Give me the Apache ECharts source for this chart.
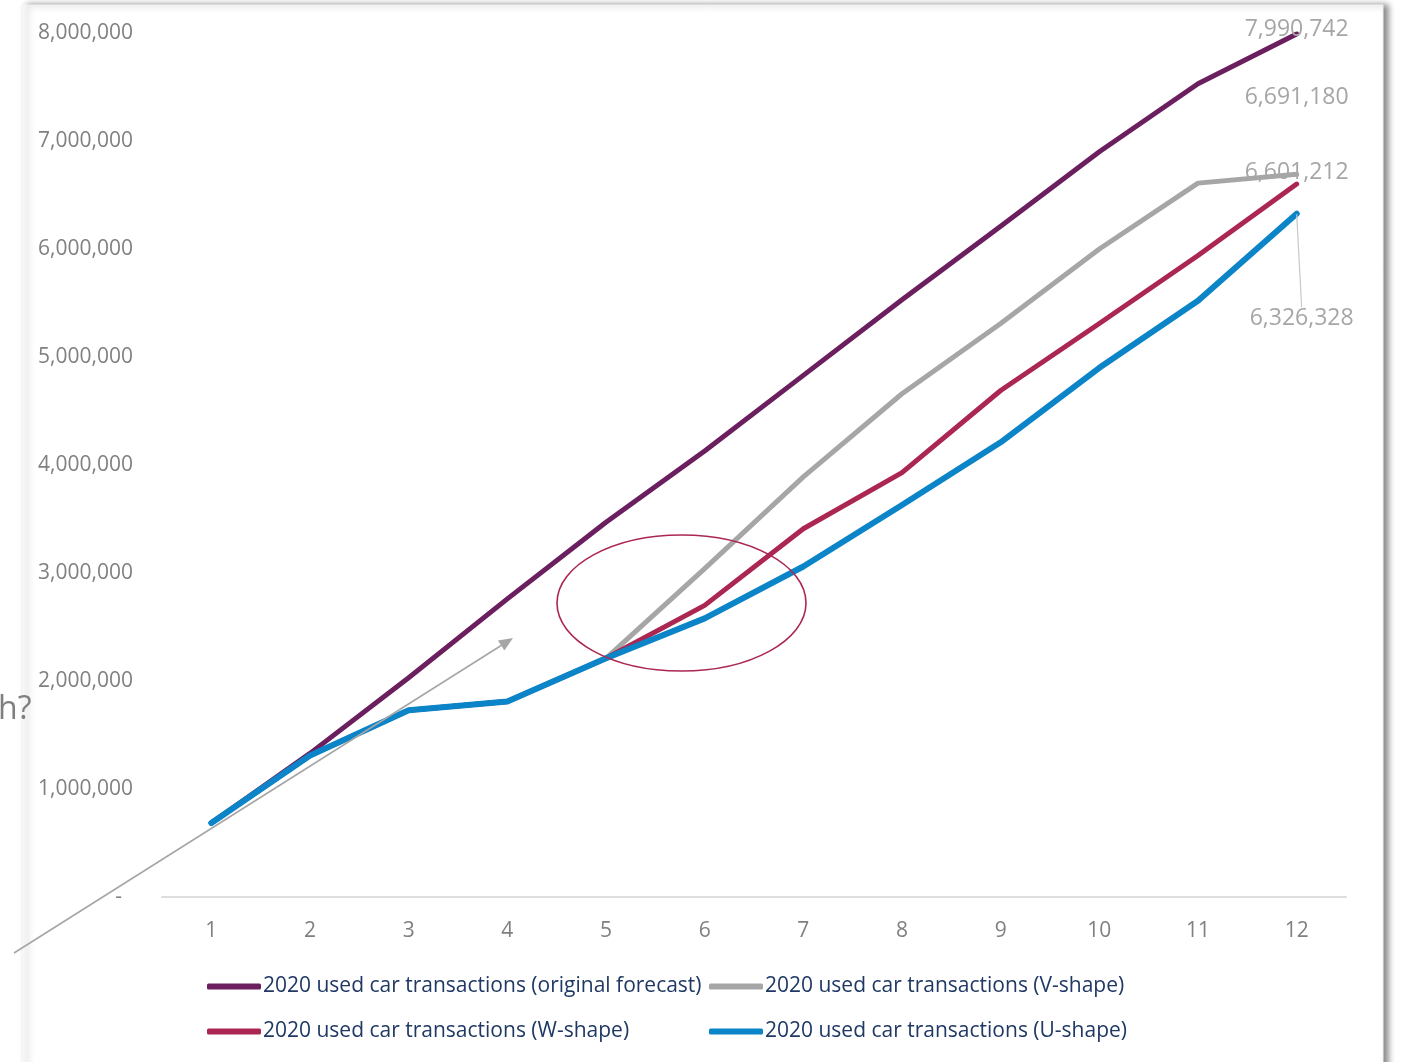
<!DOCTYPE html>
<html>
<head>
<meta charset="utf-8">
<script src="https://cdn.jsdelivr.net/npm/echarts@6/dist/echarts.min.js"></script>
<style>
  html, body { margin: 0; padding: 0; background: #ffffff; }
  #chart { width: 1401px; height: 1062px; }
</style>
</head>
<body>
<div id="chart"></div>
<script>
// Month numbers on the category axis
const months = ['1', '2', '3', '4', '5', '6', '7', '8', '9', '10', '11', '12'];

// Cumulative 2020 used car transactions per scenario
const originalForecast = [685000, 1330000, 2030000, 2760000, 3470000, 4130000, 4830000, 5530000, 6210000, 6900000, 7530000, 7990742];
const vShape = [685000, 1310000, 1730000, 1810000, 2210000, 3040000, 3890000, 4660000, 5310000, 6000000, 6610000, 6691180];
const wShape = [685000, 1310000, 1730000, 1810000, 2210000, 2700000, 3410000, 3930000, 4690000, 5310000, 5940000, 6601212];
const uShape = [685000, 1310000, 1730000, 1810000, 2210000, 2580000, 3060000, 3630000, 4210000, 4900000, 5520000, 6326328];

// Value axis ticks
const yTicks = { min: 0, max: 8000000, step: 1000000 };

const seriesNames = [
  '2020 used car transactions (original forecast)',
  '2020 used car transactions (V-shape)',
  '2020 used car transactions (W-shape)',
  '2020 used car transactions (U-shape)'
];

const FONT = '"Open Sans", "Noto Sans", sans-serif';
const fmt = v => Number(v).toLocaleString('en-US');

// Only the December point carries a value label
function withEndLabel(values, labelOpts, extra) {
  return values.map((v, i) => {
    if (i !== values.length - 1) return v;
    return Object.assign({
      value: v,
      symbol: 'circle',
      symbolSize: 1,
      label: Object.assign({
        show: true,
        position: 'inside',
        align: 'center',
        verticalAlign: 'middle',
        color: '#a6a6a6',
        fontSize: 23,
        fontFamily: FONT,
        formatter: p => fmt(p.value)
      }, labelOpts)
    }, extra || {});
  });
}

function lineSeries(name, values, color, width, labelOpts, extra) {
  return {
    name: name,
    type: 'line',
    data: withEndLabel(values, labelOpts, extra),
    symbol: 'none',
    showSymbol: true,
    showAllSymbol: true,
    itemStyle: { color: color },
    lineStyle: { color: color, width: width, cap: 'round', join: 'round' },
    emphasis: { disabled: true },
    silent: true,
    z: 3
  };
}

// Grey arrow (trend annotation) geometry
const arrowFrom = [14, 953];
const arrowTip = [513, 638];
const arrowLen = 14, arrowHalf = 6;
const adx = arrowTip[0] - arrowFrom[0], ady = arrowTip[1] - arrowFrom[1];
const alen = Math.hypot(adx, ady);
const ux = adx / alen, uy = ady / alen;
const baseC = [arrowTip[0] - ux * arrowLen, arrowTip[1] - uy * arrowLen];
const arrowHead = [
  arrowTip,
  [baseC[0] - uy * arrowHalf, baseC[1] + ux * arrowHalf],
  [baseC[0] + uy * arrowHalf, baseC[1] - ux * arrowHalf]
];

const legendCommon = {
  orient: 'vertical',
  top: 976,
  padding: 0,
  itemGap: 24,
  itemWidth: 54,
  itemHeight: 6,
  icon: 'roundRect',
  selectedMode: false,
  textStyle: { color: '#1f3864', fontSize: 21, fontFamily: FONT, padding: [0, 0, 0, -3] }
};

const option = {
  animation: false,
  backgroundColor: '#ffffff',
  textStyle: { fontFamily: FONT },
  grid: { left: 162, right: 55, top: 33, bottom: 165, containLabel: false },
  legend: [
    Object.assign({ left: 207, data: [seriesNames[0], seriesNames[2]] }, legendCommon),
    Object.assign({ left: 709, data: [seriesNames[1], seriesNames[3]] }, legendCommon)
  ],
  xAxis: {
    type: 'category',
    data: months,
    boundaryGap: true,
    axisTick: { show: false },
    axisLine: { show: true, lineStyle: { color: '#dedede', width: 2 } },
    axisLabel: { color: '#808080', fontSize: 21, fontFamily: FONT, margin: 24 },
    splitLine: { show: false }
  },
  yAxis: {
    type: 'value',
    min: yTicks.min,
    max: yTicks.max,
    interval: yTicks.step,
    axisLine: { show: false },
    axisTick: { show: false },
    splitLine: { show: false },
    axisLabel: {
      color: '#808080',
      fontSize: 21,
      fontFamily: FONT,
      margin: 29,
      formatter: v => (v === 0 ? '-  ' : fmt(v))
    }
  },
  series: [
    lineSeries(seriesNames[0], originalForecast, '#6b1f5f', 5, { offset: [0, -5] }),
    lineSeries(seriesNames[1], vShape, '#a6a6a6', 5, { offset: [0, -77] }),
    lineSeries(seriesNames[2], wShape, '#ab2752', 5, { offset: [0, -12] }),
    lineSeries(seriesNames[3], uShape, '#0b84c8', 6, { offset: [5, 105] }, {
      labelLine: { show: true, lineStyle: { color: '#c8c8c8', width: 1.2 } }
    })
  ],
  graphic: [
    {
      // slide panel with a soft shadow on its right edge
      type: 'rect',
      z: -10,
      silent: true,
      shape: { x: 22, y: 5, width: 1361, height: 1080 },
      style: {
        fill: '#ffffff',
        stroke: '#f2f2f2',
        lineWidth: 1,
        shadowColor: 'rgba(0,0,0,0.45)',
        shadowBlur: 6,
        shadowOffsetX: 5,
        shadowOffsetY: 0
      }
    },
    {
      type: 'text',
      z: 5,
      silent: true,
      left: -2,
      top: 694,
      style: { text: 'h?', fill: '#7f7f7f', fontSize: 32, fontFamily: FONT }
    },
    {
      type: 'polyline',
      z: 20,
      silent: true,
      shape: { points: [arrowFrom, baseC] },
      style: { stroke: '#a6a6a6', lineWidth: 1.6, fill: null }
    },
    {
      type: 'polygon',
      z: 20,
      silent: true,
      shape: { points: arrowHead },
      style: { fill: '#a6a6a6' }
    },
    {
      type: 'ellipse',
      z: 20,
      silent: true,
      shape: { cx: 681.5, cy: 603, rx: 124.5, ry: 68 },
      style: { fill: null, stroke: '#ab2752', lineWidth: 1.6 }
    }
  ]
};

const chart = echarts.init(document.getElementById('chart'), null, { renderer: 'canvas' });
chart.setOption(option);
</script>
</body>
</html>
